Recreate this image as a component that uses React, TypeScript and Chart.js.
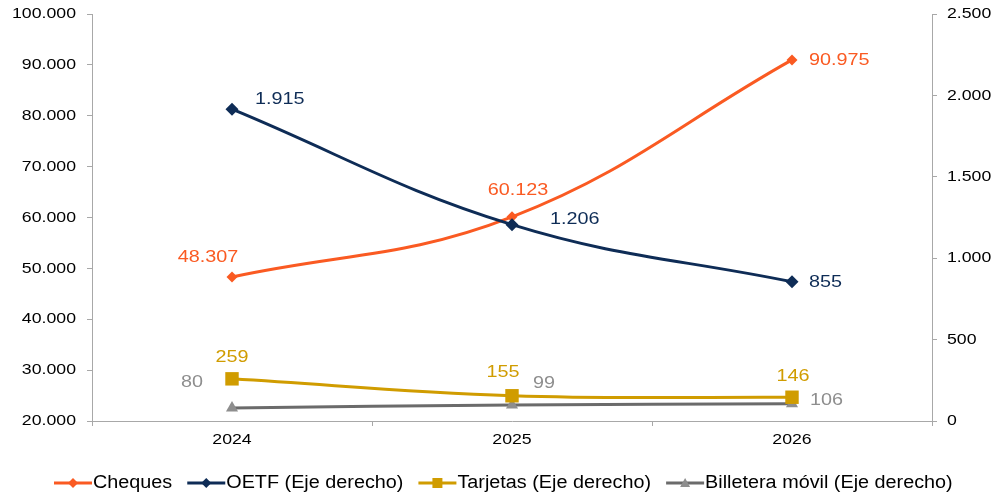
import { useEffect, useRef } from "react";
import { Chart, registerables } from "chart.js";
Chart.register(...registerables);

// ---- data ----
const categories = ["2024", "2025", "2026"];
const cheques = [48307, 60123, 90975];
const oetf = [1915, 1206, 855];
const tarjetas = [259, 155, 146];
const billetera = [80, 99, 106];
const leftTicks = [20000, 30000, 40000, 50000, 60000, 70000, 80000, 90000, 100000];
const rightTicks = [0, 500, 1000, 1500, 2000, 2500];
const seriesNames = [
  "Cheques",
  "OETF (Eje derecho)",
  "Tarjetas (Eje derecho)",
  "Billetera móvil (Eje derecho)",
];

// ---- styles ----
const ORANGE = "#FA5A22";
const NAVY = "#0E2C56";
const GOLD = "#D09C00";
const GRAYLINE = "#6B6B6B";
const GRAY = "#8E8E8E";
const AXIS = "#A8A8A8";
const FONT = "'Liberation Sans', Arial, sans-serif";
const STRETCH = 1.18;

type Place = { dx: number; dy: number; align: CanvasTextAlign };
const labelPlaces: Place[][] = [
  [
    { dx: -24, dy: -20, align: "center" },
    { dx: 6, dy: -26, align: "center" },
    { dx: 17, dy: 1, align: "left" },
  ],
  [
    { dx: 23, dy: -10, align: "left" },
    { dx: 38, dy: -5, align: "left" },
    { dx: 17, dy: 1, align: "left" },
  ],
  [
    { dx: 0, dy: -21, align: "center" },
    { dx: -9, dy: -23, align: "center" },
    { dx: 1, dy: -21, align: "center" },
  ],
  [
    { dx: -29, dy: -26, align: "right" },
    { dx: 21, dy: -21, align: "left" },
    { dx: 18, dy: -3, align: "left" },
  ],
];
const labelColors = [ORANGE, NAVY, GOLD, GRAY];
const lineColors = [ORANGE, NAVY, GOLD, GRAYLINE];
const markerColors = [ORANGE, NAVY, GOLD, GRAY];
const markerShapes = ["diamond", "diamond", "square", "triangle"];

const fmt = (v: number) => String(v).replace(/\B(?=(\d{3})+(?!\d))/g, ".");

function stretchText(
  ctx: CanvasRenderingContext2D,
  text: string,
  x: number,
  y: number,
  align: CanvasTextAlign,
  color: string,
  size: number,
  stretch = STRETCH
) {
  ctx.save();
  ctx.translate(x, y);
  ctx.scale(stretch, 1);
  ctx.font = `${size}px ${FONT}`;
  ctx.fillStyle = color;
  ctx.textAlign = align;
  ctx.textBaseline = "middle";
  ctx.fillText(text, 0, 0);
  ctx.restore();
}

function drawMarker(ctx: CanvasRenderingContext2D, shape: string, x: number, y: number, r: number, color: string) {
  ctx.save();
  ctx.fillStyle = color;
  ctx.beginPath();
  if (shape === "diamond") {
    ctx.moveTo(x, y - r);
    ctx.lineTo(x + r, y);
    ctx.lineTo(x, y + r);
    ctx.lineTo(x - r, y);
  } else if (shape === "square") {
    ctx.rect(x - r, y - r, 2 * r, 2 * r);
  } else {
    ctx.moveTo(x, y - r);
    ctx.lineTo(x + r, y + r * 0.8);
    ctx.lineTo(x - r, y + r * 0.8);
  }
  ctx.closePath();
  ctx.fill();
  ctx.restore();
}

const textPlugin = {
  id: "textPlugin",
  afterDraw(chart: any) {
    const ctx: CanvasRenderingContext2D = chart.ctx;
    const yl = chart.scales.y;
    const yr = chart.scales.y1;
    const xs = chart.scales.x;
    // axis tick labels
    leftTicks.forEach((v) => {
      stretchText(ctx, fmt(v), 76, yl.getPixelForValue(v), "right", "#000", 15);
    });
    rightTicks.forEach((v) => {
      stretchText(ctx, fmt(v), 947, yr.getPixelForValue(v), "left", "#000", 15);
    });
    categories.forEach((c, i) => {
      stretchText(ctx, c, xs.getPixelForValue(i), 440, "center", "#000", 15);
    });
    // data labels
    const all = [cheques, oetf, tarjetas, billetera];
    all.forEach((arr, di) => {
      const meta = chart.getDatasetMeta(di);
      arr.forEach((v, j) => {
        const pt = meta.data[j];
        const p = labelPlaces[di][j];
        stretchText(ctx, fmt(v), pt.x + p.dx, pt.y + p.dy, p.align, labelColors[di], 16.5, 1.2);
      });
    });
    // legend
    const ly = 483;
    let x = 54;
    const lineLen = 38;
    ctx.save();
    ctx.font = `18px ${FONT}`;
    seriesNames.forEach((name, i) => {
      ctx.save();
      ctx.strokeStyle = lineColors[i];
      ctx.lineWidth = 3;
      ctx.beginPath();
      ctx.moveTo(x, ly);
      ctx.lineTo(x + lineLen, ly);
      ctx.stroke();
      ctx.restore();
      const shape = markerShapes[i];
      drawMarker(ctx, shape, x + lineLen / 2, ly, shape === "square" ? 5 : 5, markerColors[i]);
      ctx.font = `18px ${FONT}`;
      const w = ctx.measureText(name).width * 1.1;
      stretchText(ctx, name, x + lineLen + 1, ly, "left", "#000", 18, 1.1);
      x += lineLen + 1 + w + 15;
    });
    ctx.restore();
  },
};

export default function App() {
  const ref = useRef<HTMLCanvasElement>(null);
  useEffect(() => {
    document.body.style.margin = "0";
    const canvas = ref.current!;
    const gridCommon = {
      drawOnChartArea: false,
      drawTicks: true,
      tickLength: 5,
      color: AXIS,
      lineWidth: 1,
    };
    const chart = new Chart(canvas, {
      type: "line",
      data: {
        labels: categories,
        datasets: [
          {
            label: seriesNames[0],
            data: cheques,
            yAxisID: "y",
            borderColor: ORANGE,
            backgroundColor: ORANGE,
            borderWidth: 3,
            pointStyle: "rectRot",
            pointRadius: 5.5,
            pointBorderWidth: 0,
            tension: 0.4,
            order: 1,
            clip: false as any,
          },
          {
            label: seriesNames[1],
            data: oetf,
            yAxisID: "y1",
            borderColor: NAVY,
            backgroundColor: NAVY,
            borderWidth: 3,
            pointStyle: "rectRot",
            pointRadius: 6.5,
            pointBorderWidth: 0,
            tension: 0.4,
            order: 0,
            clip: false as any,
          },
          {
            label: seriesNames[2],
            data: tarjetas,
            yAxisID: "y1",
            borderColor: GOLD,
            backgroundColor: GOLD,
            borderWidth: 3,
            pointStyle: "rect",
            pointRadius: 9.5,
            pointBorderWidth: 0,
            tension: 0.4,
            order: 2,
            clip: false as any,
          },
          {
            label: seriesNames[3],
            data: billetera,
            yAxisID: "y1",
            borderColor: GRAYLINE,
            backgroundColor: GRAY,
            borderWidth: 3,
            pointStyle: "triangle",
            pointRadius: 7,
            pointBorderWidth: 0,
            tension: 0.4,
            order: 3,
            clip: false as any,
          },
        ],
      },
      options: {
        responsive: false,
        animation: false,
        layout: { padding: { top: 14, left: 0, right: 0, bottom: 0 } },
        plugins: { legend: { display: false }, tooltip: { enabled: false } },
        scales: {
          x: {
            offset: true,
            grid: { ...gridCommon, offset: true },
            border: { display: true, color: AXIS, width: 1 },
            ticks: { color: "rgba(0,0,0,0)", font: { size: 15 } },
            afterFit: (s: any) => {
              s.height = 75;
            },
          },
          y: {
            position: "left",
            min: 20000,
            max: 100000,
            grid: gridCommon,
            border: { display: true, color: AXIS, width: 1 },
            ticks: { stepSize: 10000, color: "rgba(0,0,0,0)", font: { size: 15 } },
            afterFit: (s: any) => {
              s.width = 92;
            },
          },
          y1: {
            position: "right",
            min: 0,
            max: 2500,
            grid: gridCommon,
            border: { display: true, color: AXIS, width: 1 },
            ticks: { stepSize: 500, color: "rgba(0,0,0,0)", font: { size: 15 } },
            afterFit: (s: any) => {
              s.width = 63;
            },
          },
        },
      },
      plugins: [textPlugin],
    });
    return () => chart.destroy();
  }, []);
  return <canvas ref={ref} width={995} height={496} style={{ display: "block" }} />;
}
